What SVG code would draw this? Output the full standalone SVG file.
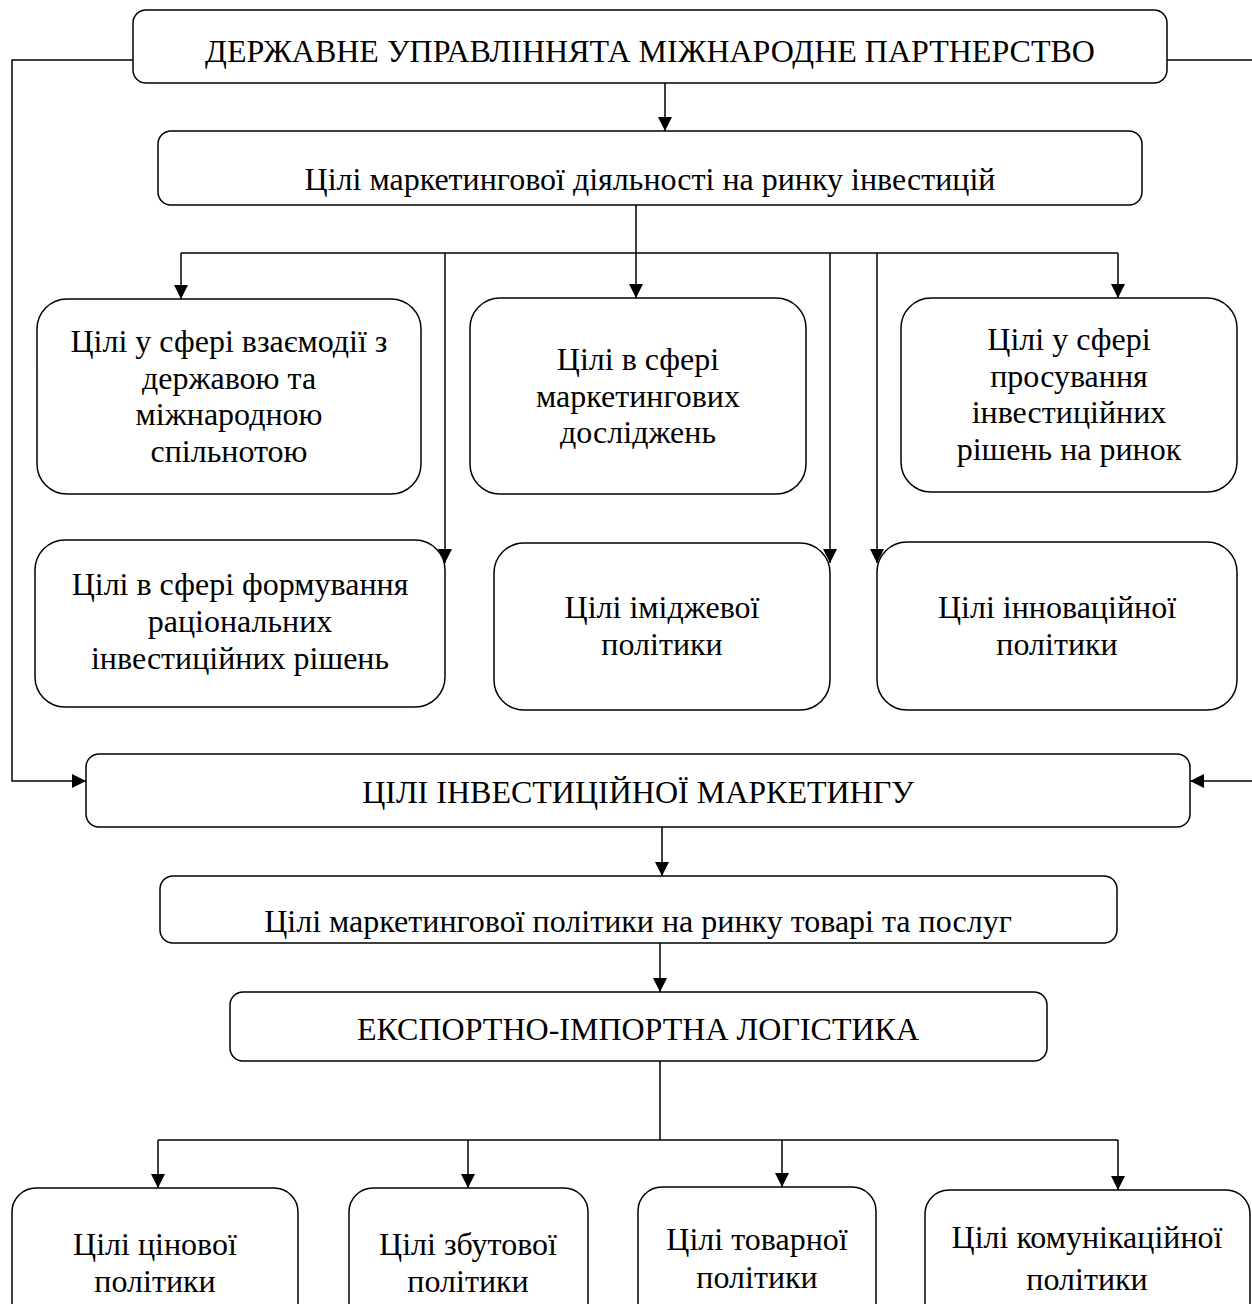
<svg xmlns="http://www.w3.org/2000/svg" width="1252" height="1304" viewBox="0 0 1252 1304">
  <style>
    .box { fill: #ffffff; stroke: #000000; stroke-width: 1.5; }
    .lbl { font-family: "Liberation Serif", "Times New Roman", serif; font-size: 32px; fill: #000000; text-anchor: middle; }
    .wire { fill: none; stroke: #000000; stroke-width: 1.5; }
    .arr { marker-end: url(#tip); }
  </style>
  <defs>
    <marker id="tip" viewBox="0 0 14 14" refX="14" refY="7" markerWidth="14" markerHeight="14" markerUnits="userSpaceOnUse" orient="auto">
      <path d="M0,0 L14,7 L0,14 Z" fill="#000000"/>
    </marker>
  </defs>
  <rect width="1252" height="1304" fill="#ffffff"/>

  <!-- connectors -->
  <g id="connectors">
    <path class="wire" d="M133,60 H12 V781 H86" marker-end="url(#tip)"/>
    <path class="wire" d="M1167,60 H1253"/>
    <path class="wire" d="M1253,781 H1190" marker-end="url(#tip)"/>
    <path class="wire arr" d="M665,83 V131"/>
    <path class="wire" d="M636,205 V253 M181,253 H1118"/>
    <path class="wire arr" d="M181,253 V299"/>
    <path class="wire arr" d="M636,253 V298"/>
    <path class="wire arr" d="M1118,253 V298"/>
    <path class="wire arr" d="M445,253 V563"/>
    <path class="wire arr" d="M830,253 V563"/>
    <path class="wire arr" d="M877,253 V563"/>
    <path class="wire arr" d="M662,827 V876"/>
    <path class="wire arr" d="M660,943 V992"/>
    <path class="wire" d="M660,1061 V1140 M158,1140 H1118"/>
    <path class="wire arr" d="M158,1140 V1188"/>
    <path class="wire arr" d="M468,1140 V1188"/>
    <path class="wire arr" d="M782,1140 V1187"/>
    <path class="wire arr" d="M1118,1140 V1190"/>
  </g>

  <g id="n-top">
    <rect class="box" x="133" y="10" width="1034" height="73" rx="13"/>
    <text class="lbl" x="650" y="62">ДЕРЖАВНЕ УПРАВЛІННЯТА МІЖНАРОДНЕ ПАРТНЕРСТВО</text>
  </g>
  <g id="n-invest-goals">
    <rect class="box" x="158" y="131" width="984" height="74" rx="13"/>
    <text class="lbl" x="650" y="190">Цілі маркетингової діяльності на ринку інвестицій</text>
  </g>

  <g id="n-interaction">
    <rect class="box" x="37" y="299" width="384" height="195" rx="30"/>
    <text class="lbl" x="229" y="352">Цілі у сфері взаємодії з</text>
    <text class="lbl" x="229" y="389">державою та</text>
    <text class="lbl" x="229" y="425">міжнародною</text>
    <text class="lbl" x="229" y="462">спільнотою</text>
  </g>
  <g id="n-research">
    <rect class="box" x="470" y="298" width="336" height="196" rx="30"/>
    <text class="lbl" x="638" y="370">Цілі в сфері</text>
    <text class="lbl" x="638" y="407">маркетингових</text>
    <text class="lbl" x="638" y="443">досліджень</text>
  </g>
  <g id="n-promotion">
    <rect class="box" x="901" y="298" width="336" height="194" rx="30"/>
    <text class="lbl" x="1069" y="350">Цілі у сфері</text>
    <text class="lbl" x="1069" y="387">просування</text>
    <text class="lbl" x="1069" y="423">інвестиційних</text>
    <text class="lbl" x="1069" y="460">рішень на ринок</text>
  </g>

  <g id="n-rational">
    <rect class="box" x="35" y="540" width="410" height="167" rx="30"/>
    <text class="lbl" x="240" y="595">Цілі в сфері формування</text>
    <text class="lbl" x="240" y="632">раціональних</text>
    <text class="lbl" x="240" y="669">інвестиційних рішень</text>
  </g>
  <g id="n-image">
    <rect class="box" x="494" y="543" width="336" height="167" rx="30"/>
    <text class="lbl" x="662" y="618">Цілі іміджевої</text>
    <text class="lbl" x="662" y="655">політики</text>
  </g>
  <g id="n-innovation">
    <rect class="box" x="877" y="542" width="360" height="168" rx="30"/>
    <text class="lbl" x="1057" y="618">Цілі інноваційної</text>
    <text class="lbl" x="1057" y="655">політики</text>
  </g>

  <g id="n-marketing-goals">
    <rect class="box" x="86" y="754" width="1104" height="73" rx="13"/>
    <text class="lbl" x="638" y="803">ЦІЛІ ІНВЕСТИЦІЙНОЇ МАРКЕТИНГУ</text>
  </g>
  <g id="n-goods-policy">
    <rect class="box" x="160" y="876" width="957" height="67" rx="13"/>
    <text class="lbl" x="638" y="932">Цілі маркетингової політики на ринку товарі та послуг</text>
  </g>
  <g id="n-logistics">
    <rect class="box" x="230" y="992" width="817" height="69" rx="13"/>
    <text class="lbl" x="638" y="1040">ЕКСПОРТНО-ІМПОРТНА ЛОГІСТИКА</text>
  </g>

  <g id="n-price">
    <rect class="box" x="12" y="1188" width="286" height="140" rx="24"/>
    <text class="lbl" x="155" y="1255">Цілі цінової</text>
    <text class="lbl" x="155" y="1292">політики</text>
  </g>
  <g id="n-sales">
    <rect class="box" x="349" y="1188" width="239" height="140" rx="24"/>
    <text class="lbl" x="468" y="1255">Цілі збутової</text>
    <text class="lbl" x="468" y="1292">політики</text>
  </g>
  <g id="n-product">
    <rect class="box" x="638" y="1187" width="238" height="140" rx="24"/>
    <text class="lbl" x="757" y="1250">Цілі товарної</text>
    <text class="lbl" x="757" y="1288">політики</text>
  </g>
  <g id="n-communication">
    <rect class="box" x="925" y="1190" width="325" height="140" rx="24"/>
    <text class="lbl" x="1087" y="1248">Цілі комунікаційної</text>
    <text class="lbl" x="1087" y="1290">політики</text>
  </g>
</svg>
